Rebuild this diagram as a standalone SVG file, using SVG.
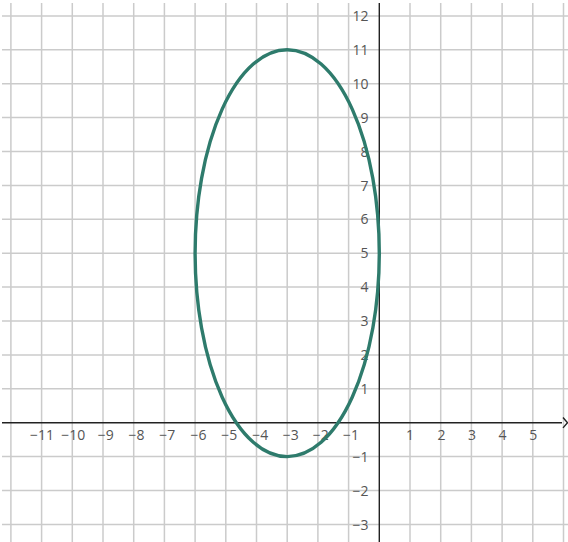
<svg xmlns="http://www.w3.org/2000/svg" width="568" height="542" viewBox="0 0 568 542">
<style>
.g{stroke:#cbcbcb;stroke-width:1.5;fill:none}
.ax{stroke:#222;stroke-width:1.4;fill:none}
.t{font-family:"Open Sans","DejaVu Sans",sans-serif;font-size:14px;fill:#555}
.tx{text-anchor:middle}
.ty{text-anchor:end}
</style>
<rect width="568" height="542" fill="#fff"/>
<g id="grid" class="g">
<path d="M10.9 3V542M41.6 3V542M72.3 3V542M103 3V542M133.7 3V542M164.4 3V542M195.1 3V542M225.8 3V542M256.5 3V542M287.2 3V542M317.9 3V542M348.6 3V542M410 3V542M440.7 3V542M471.4 3V542M502.1 3V542M532.8 3V542M563.5 3V542"/>
<path d="M2 15.9H568M2 49.8H568M2 83.7H568M2 117.6H568M2 151.5H568M2 185.4H568M2 219.3H568M2 253.2H568M2 287.1H568M2 321H568M2 354.9H568M2 388.8H568M2 456.6H568M2 490.5H568M2 524.4H568"/>
</g>
<g id="axes" class="ax">
<path d="M2 422.7H562"/>
<path d="M563 417.5L567.5 422.7L563 427.9"/>
<path d="M379.3 3V542"/>
</g>
<g id="xlabels" class="t tx">
<text x="42" y="440">−11</text>
<text x="73.3" y="440">−10</text>
<text x="105.8" y="440">−9</text>
<text x="136.5" y="440">−8</text>
<text x="167.2" y="440">−7</text>
<text x="198.5" y="440">−6</text>
<text x="229.3" y="440">−5</text>
<text x="260.3" y="440">−4</text>
<text x="290.8" y="440">−3</text>
<text x="320.7" y="440">−2</text>
<text x="351" y="440">−1</text>
<text x="410" y="440">1</text>
<text x="441.4" y="440">2</text>
<text x="472" y="440">3</text>
<text x="502.6" y="440">4</text>
<text x="533.3" y="440">5</text>
</g>
<g id="ylabels" class="t ty">
<text x="368.5" y="21">12</text>
<text x="368.5" y="54.9">11</text>
<text x="368.5" y="88.8">10</text>
<text x="368.5" y="122.7">9</text>
<text x="368.5" y="156.6">8</text>
<text x="368.5" y="190.5">7</text>
<text x="368.5" y="224.4">6</text>
<text x="368.5" y="258.3">5</text>
<text x="368.5" y="292.2">4</text>
<text x="368.5" y="326.1">3</text>
<text x="368.5" y="360">2</text>
<text x="368.5" y="393.9">1</text>
<text x="368.5" y="461.7">−1</text>
<text x="368.5" y="495.6">−2</text>
<text x="368.5" y="529.5">−3</text>
</g>
<g id="curve">
<ellipse cx="287.2" cy="253.2" rx="92.1" ry="203.4" fill="none" stroke="#2e7b6c" stroke-width="3.4"/>
</g>
</svg>
